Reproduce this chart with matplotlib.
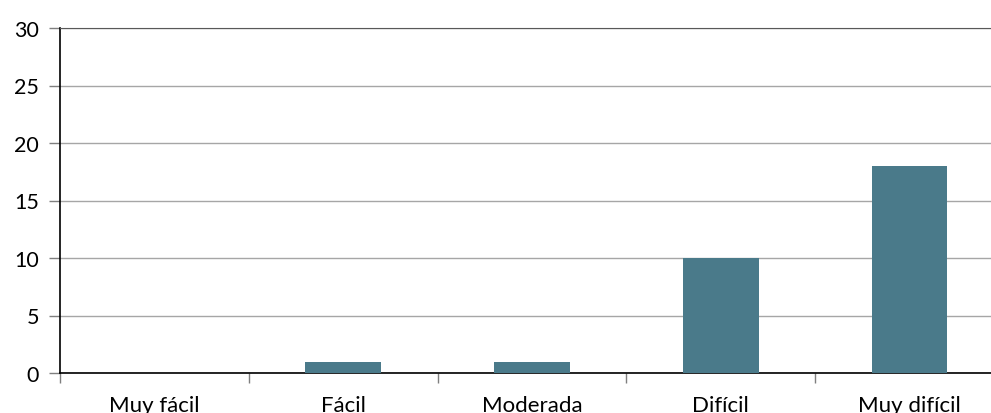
import matplotlib
matplotlib.use('Agg')
import matplotlib.pyplot as plt
from matplotlib.ticker import FixedLocator, NullFormatter

categories = ['Muy fácil', 'Fácil', 'Moderada', 'Difícil', 'Muy difícil']
counts = [0, 1, 1, 10, 18]
y_ticks = [0, 5, 10, 15, 20, 25, 30]

plt.rcParams['font.family'] = ['Lato', 'DejaVu Sans']

fig = plt.figure(figsize=(9.91, 4.14), dpi=100)
ax = fig.add_axes([60 / 991, 40 / 414, 944 / 991, 345 / 414])

x = list(range(len(categories)))
ax.bar(x, counts, width=0.4, color='#4a7a8a', zorder=3)

ax.set_xlim(-0.5, len(categories) - 0.5)
ax.set_ylim(0, 30)
ax.set_yticks(y_ticks)
ax.yaxis.grid(True, color='#a6a6a6', linewidth=1.0, zorder=0)
ax.tick_params(axis='y', length=8, width=1, color='#7f7f7f', labelsize=15.5, pad=7)

# category labels sit between the tick marks at the boundaries
ax.set_xticks(x)
ax.set_xticklabels(categories)
ax.tick_params(axis='x', which='major', length=0, labelsize=16, pad=16)
ax.xaxis.set_minor_locator(FixedLocator([i - 0.5 for i in range(len(categories) + 1)]))
ax.xaxis.set_minor_formatter(NullFormatter())
ax.tick_params(axis='x', which='minor', length=7, width=1, color='#7f7f7f')

for side in ['left', 'bottom']:
    ax.spines[side].set_color('black')
    ax.spines[side].set_linewidth(1.2)
ax.spines['top'].set_color('#595959')
ax.spines['right'].set_visible(False)

fig.savefig('out.png', dpi=100)
